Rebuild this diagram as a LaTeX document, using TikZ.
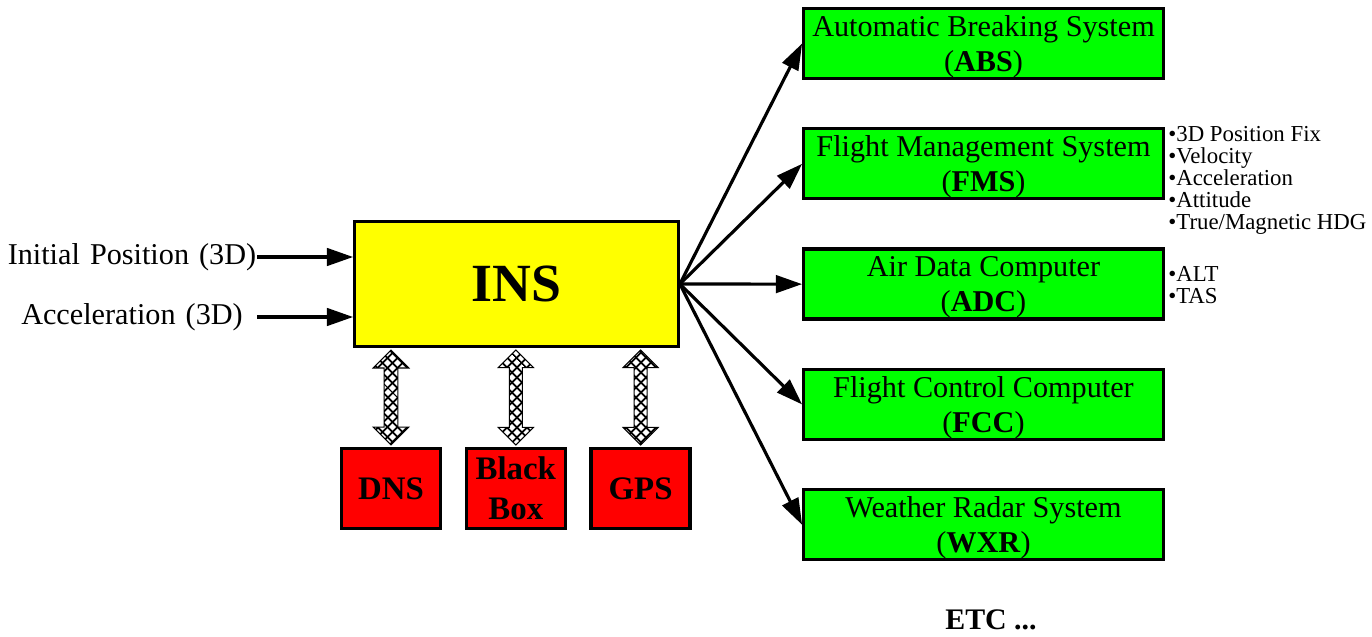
\documentclass[tikz,border=0pt]{standalone}
\usepackage{fontspec}
\setmainfont{Liberation Serif}
\usetikzlibrary{arrows.meta, positioning, shapes.arrows, patterns.meta}

\definecolor{insyellow}{RGB}{255,255,0}
\definecolor{sysgreen}{RGB}{0,255,0}
\definecolor{aidred}{RGB}{255,0,0}

\begin{document}
\begin{tikzpicture}[x=0.02cm, y=-0.02cm,
    sysbox/.style={rectangle, draw, line width=1.9pt, fill=sysgreen, inner sep=0pt,
                   minimum width=7.19cm, minimum height=1.4cm, align=center,
                   text depth=0pt, font=\fontsize{17.2}{19.8}\selectfont},
    aidbox/.style={rectangle, draw, line width=1.9pt, fill=aidred, inner sep=0pt,
                   minimum width=1.98cm, minimum height=1.6cm, align=center,
                   font=\fontsize{18.7}{23}\bfseries},
    inlabel/.style={text width=5cm, align=center, inner sep=0pt,
                    font=\fontsize{17.2}{20}\selectfont},
    infolist/.style={anchor=north west, align=left, inner sep=0pt,
                     font=\fontsize{13}{12.5}\selectfont},
    dblarrow/.style={double arrow, draw, line width=0.6pt, inner sep=0.12cm,
                     minimum height=1.9cm, double arrow head extend=0.22cm,
                     pattern={Lines[angle=45, distance=4pt, line width=1.1pt]},
                     postaction={pattern={Lines[angle=-45, distance=4pt, line width=1.1pt]}}},
    arr/.style={-{Triangle[length=15pt, width=10pt]}, line width=1.8pt},
]
\useasboundingbox (0,0) rectangle (1372,636);

% central unit
\node[rectangle, draw, line width=1.9pt, fill=insyellow, minimum width=6.47cm,
      minimum height=2.5cm, font=\fontsize{30.6}{36}\bfseries] (ins) at (516.5,284) {INS};

% inputs
\node[inlabel] (init) at (132,257) {Initial Position (3D)};
\node[inlabel] (acc) at (132,317) {Acceleration (3D)};
\draw[arr] (init.east) -- (init.east -| ins.west);
\draw[arr] (acc.east) -- (acc.east -| ins.west);

% aiding units
\node[aidbox] (dns) at (391,488.5) {DNS};
\node[aidbox, right=0.45cm of dns] (bbox) {Black\\Box};
\node[aidbox, right=0.45cm of bbox] (gps) {GPS};

\foreach \r in {dns,bbox,gps}
  \path (\r.north) -- (\r.north |- ins.south) node[midway, sloped, dblarrow] {};

% systems fed by the INS
\node[sysbox] (abs) at (983.5,43.5) {Automatic Breaking System\\(\textbf{ABS})};
\node[sysbox, below=0.94cm of abs] (fms) {Flight Management System\\(\textbf{FMS})};
\node[sysbox, below=0.94cm of fms] (adc) {Air Data Computer\\(\textbf{ADC})};
\node[sysbox, below=0.94cm of adc] (fcc) {Flight Control Computer\\(\textbf{FCC})};
\node[sysbox, below=0.94cm of fcc] (wxr) {Weather Radar System\\(\textbf{WXR})};

\foreach \s in {abs,fms,adc,fcc,wxr}
  \draw[arr] (ins.east) -- (\s.west);

\node[infolist] (fmsinfo) at (1168,126) {•3D Position Fix\\•Velocity\\•Acceleration\\•Attitude\\•True/Magnetic HDG};
\node[infolist] (adcinfo) at (1168,266) {•ALT\\•TAS};

\node[font=\fontsize{17}{20}\bfseries] (etc) at (991,620) {ETC ...};
\end{tikzpicture}
\end{document}
